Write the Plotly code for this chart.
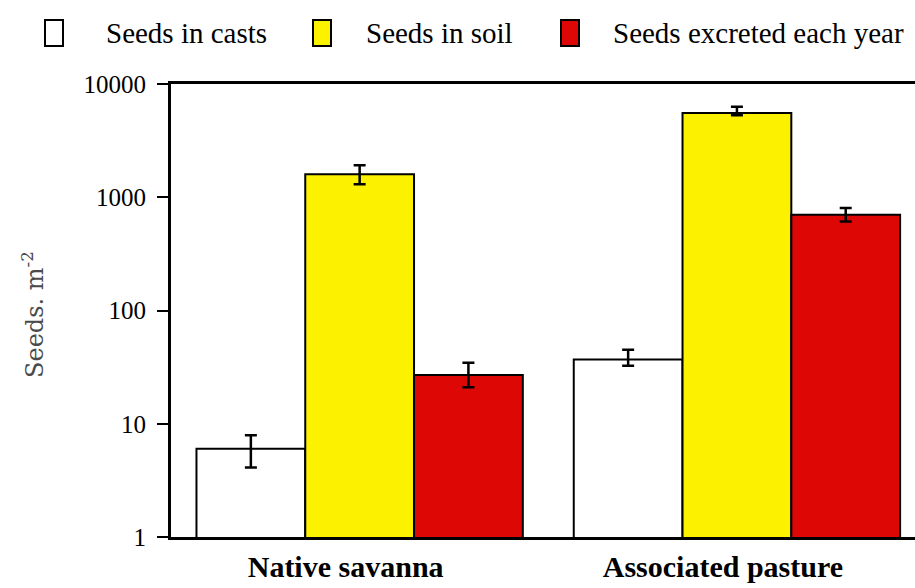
import plotly.graph_objects as go

# ---- data ----
categories = ["Native savanna", "Associated pasture"]
series_names = ["Seeds in casts", "Seeds in soil", "Seeds excreted each year"]
casts = [6.0, 37.0]
casts_plus = [1.9, 8.0]
casts_minus = [1.9, 4.5]
soil = [1600.0, 5550.0]
soil_plus = [315.0, 760.0]
soil_minus = [295.0, 260.0]
excreted = [27.0, 700.0]
excreted_plus = [7.5, 105.0]
excreted_minus = [6.0, 90.0]
y_tickvals = [1, 10, 100, 1000, 10000]
y_ticktext = ["1", "10", "100", "1000", "10000"]

colors = ["#ffffff", "#fcf200", "#dd0806"]

W, H = 915, 588
L, R, T, B = 171, 0, 84, 51
PW, PH = W - L - R, H - T - B


def px(x):
    return (x - L) / PW


def py(y):
    return (H - B - y) / PH


fig = go.Figure()
vals = [casts, soil, excreted]
plus = [casts_plus, soil_plus, excreted_plus]
minus = [casts_minus, soil_minus, excreted_minus]
for name, v, p, m, c in zip(series_names, vals, plus, minus, colors):
    fig.add_trace(go.Bar(
        name=name, x=categories, y=v,
        marker=dict(color=c, line=dict(color="black", width=2)),
        error_y=dict(type="data", symmetric=False, array=p, arrayminus=m,
                     color="black", thickness=2.5, width=6),
        showlegend=False,
    ))

serif = "Liberation Serif, Times New Roman, serif"

fig.update_layout(
    width=W, height=H,
    margin=dict(l=L, r=R, t=T, b=B, pad=0, autoexpand=False),
    paper_bgcolor="white", plot_bgcolor="white",
    barmode="group", bargap=0.135, bargroupgap=0,
    font=dict(family=serif, color="black"),
    xaxis=dict(
        type="category", range=[-0.5, 1.472], automargin=False,
        showline=True, linecolor="black", linewidth=2.5, mirror=True,
        ticks="", showgrid=False, zeroline=False,
        tickvals=categories,
        ticktext=["<b>" + c + "</b>" for c in categories],
        tickfont=dict(family=serif, size=30, color="black"),
        ticklabelshift=-14, ticklabelstandoff=1,
    ),
    yaxis=dict(
        type="log", range=[0, 4], automargin=False,
        showline=True, linecolor="black", linewidth=3, mirror=False,
        ticks="outside", ticklen=11, tickwidth=2, tickcolor="black",
        tickvals=y_tickvals, ticktext=y_ticktext,
        tickfont=dict(family=serif, size=25, color="black"),
        showgrid=False, zeroline=False, ticklabelstandoff=6,
    ),
)

# y-axis title
fig.add_annotation(
    text="Seeds. m<sup>-2</sup>", textangle=-90,
    xref="paper", yref="paper", x=px(33), y=py(315),
    xanchor="center", yanchor="middle", showarrow=False,
    font=dict(family="DejaVu Serif", size=24, color="#4a4a4a"),
)

# manual legend
box_left = [45, 313, 561]
text_left = [104, 364, 611]
for name, c, bl, tl in zip(series_names, colors, box_left, text_left):
    fig.add_shape(type="rect", xref="paper", yref="paper",
                  x0=px(bl), x1=px(bl + 18), y0=py(46), y1=py(20),
                  fillcolor=c, line=dict(color="black", width=2))
    fig.add_annotation(text=name, xref="paper", yref="paper",
                       x=px(tl), y=py(33), xanchor="left", yanchor="middle",
                       showarrow=False,
                       font=dict(family=serif, size=29, color="black"))

fig.write_html(
    "out.html",
    config={"displayModeBar": False},
    post_script="document.body.style.margin='0';document.body.style.overflow='hidden';",
)
